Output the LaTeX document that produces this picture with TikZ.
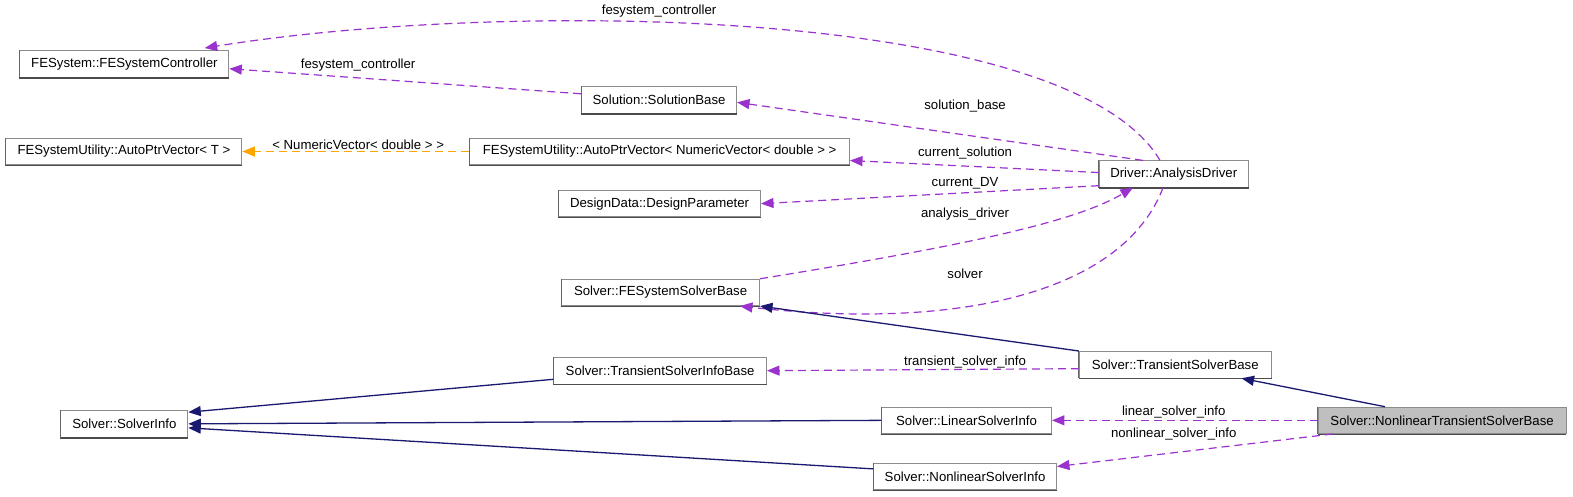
\documentclass[tikz,border=0pt]{standalone}
\usepackage{fontspec}
\setmainfont{Liberation Sans}
\usetikzlibrary{arrows.meta,calc}
\definecolor{rel}{HTML}{9A32CD}
\definecolor{inh}{HTML}{191970}
\definecolor{tpl}{HTML}{FFA500}
\definecolor{cur}{HTML}{BFBFBF}
\tikzset{
  box/.style={draw=black!45, line width=0.8pt, fill=white, minimum height=26.5pt, inner sep=0pt,
    font=\fontsize{13.2}{15}\selectfont},
  lbl/.style={font=\fontsize{13.2}{15}\selectfont, inner sep=0pt},
  member/.style={draw=rel, line width=1.2pt, dash pattern=on 8pt off 5pt, -{Triangle[length=12.5pt,width=10pt]}},
  derive/.style={draw=inh, line width=1.3pt, -{Triangle[length=12.5pt,width=10pt]}},
  templ/.style={draw=tpl, line width=1.2pt, dash pattern=on 8pt off 5pt, -{Triangle[length=12.5pt,width=10pt]}},
  shade/.style={black!70, line width=1.5pt},
}
\begin{document}
\begin{tikzpicture}[x=1.0032pt,y=-1.0032pt]
\useasboundingbox (0,0) rectangle (1568,495);
\node[box, minimum width=209pt] (ctrl) at (124,63.5) {FESystem::FESystemController};
\node[box, minimum width=155pt] (solb) at (657,99.5) {Solution::SolutionBase};
\node[box, minimum width=236pt] (apT) at (123.5,151) {FESystemUtility::AutoPtrVector< T >};
\node[box, minimum width=380pt] (apN) at (657.5,151) {FESystemUtility::AutoPtrVector< NumericVector< double > >};
\node[box, minimum width=202pt] (dp) at (657.5,203) {DesignData::DesignParameter};
\node[box, minimum width=149pt] (drv) at (1170,173.5) {Driver::AnalysisDriver};
\node[box, minimum width=198pt] (fesb) at (658.5,291.5) {Solver::FESystemSolverBase};
\node[box, minimum width=213pt] (tsib) at (658,369.5) {Solver::TransientSolverInfoBase};
\node[box, minimum width=192pt] (tsb) at (1171.5,363.5) {Solver::TransientSolverBase};
\node[box, minimum width=127pt] (si) at (124,422.5) {Solver::SolverInfo};
\node[box, minimum width=170pt] (lsi) at (963.5,419) {Solver::LinearSolverInfo};
\node[box, minimum width=248pt, fill=cur] (ntsb) at (1437.5,419) {Solver::NonlinearTransientSolverBase};
\node[box, minimum width=183pt] (nsi) at (962,475) {Solver::NonlinearSolverInfo};
\foreach \n in {ctrl,solb,apT,apN,dp,drv,fesb,tsib,tsb,si,lsi,ntsb,nsi}{
  \draw[shade] ($(\n.south west)+(0,0.4)$) -- ($(\n.south east)+(0,0.4)$);
  \draw[black!60, line width=1pt] (\n.south west) -- (\n.north west);
}
% member relations
\draw[member] ($(drv.north west)+(61,0)$) .. controls (1065,5) and (500,0) .. ($(ctrl.north east)+(-24.5,-2)$);
\draw[member] ($(solb.west)+(0,-6)$) -- ($(ctrl.east)+(0,5)$);
\draw[member] ($(drv.north west)+(44,0)$) -- ($(solb.east)+(0,2.5)$);
\draw[member] ($(drv.west)+(0,-1.5)$) -- ($(apN.east)+(0,9)$);
\draw[member] ($(drv.south west)+(0,-2)$) -- (dp.east);
\draw[member] (fesb.north east) .. controls (960,245) and (1070,222) .. ($(drv.south west)+(34,0)$);
\draw[member] ($(drv.south west)+(64,0)$) .. controls (1120,290) and (960,330) .. ($(fesb.south east)+(-20,0)$);
\draw[member] ($(tsb.west)+(0,4)$) -- (tsib.east);
\draw[member] (ntsb.west) -- (lsi.east);
\draw[member] ($(ntsb.south west)+(15,0)$) -- ($(nsi.east)+(0,-10)$);
% inheritance
\draw[derive] (tsb.north west) -- (fesb.south east);
\draw[derive] ($(tsib.south west)+(0,-5)$) -- ($(si.north east)+(0,2)$);
\draw[derive] (lsi.west) -- (si.east);
\draw[derive] ($(nsi.north west)+(0,6)$) -- ($(si.east)+(0,4)$);
\draw[derive] ($(ntsb.north west)+(67,0)$) -- ($(tsb.south east)+(-30,0)$);
% template
\draw[templ] (apN.west) -- (apT.east);
% labels
\node[lbl] (l1) at (657,11) {fesystem\_controller};
\node[lbl] (l2) at (357,65) {fesystem\_controller};
\node[lbl] (l3) at (357,144) {< NumericVector< double > >};
\node[lbl] (l4) at (962,106) {solution\_base};
\node[lbl] (l5) at (962,153) {current\_solution};
\node[lbl] (l6) at (962,183) {current\_DV};
\node[lbl] (l7) at (962,213) {analysis\_driver};
\node[lbl] (l8) at (962,273) {solver};
\node[lbl] (l9) at (962,361) {transient\_solver\_info};
\node[lbl] (l10) at (1170,411) {linear\_solver\_info};
\node[lbl] (l11) at (1170,433) {nonlinear\_solver\_info};
\end{tikzpicture}
\end{document}
